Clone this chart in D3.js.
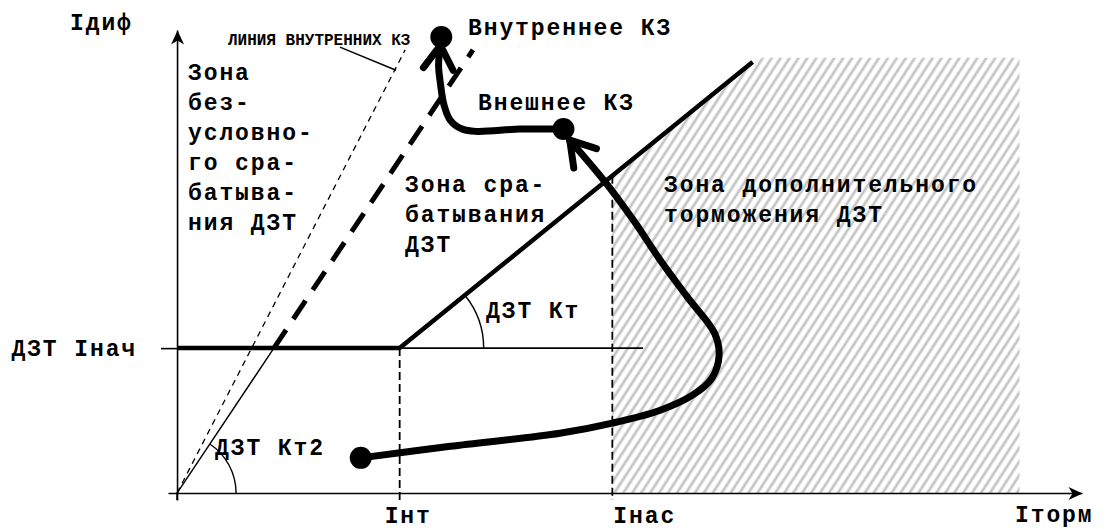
<!DOCTYPE html>
<html>
<head>
<meta charset="utf-8">
<script src="https://cdn.jsdelivr.net/npm/d3@7"></script>
<style>
  body { margin: 0; background: #fff; }
  text { font-family: "Liberation Mono", monospace; font-weight: bold; fill: #000; }
</style>
</head>
<body>
<div id="chart"></div>
<script>
// values, in relative current units (0..100 on each axis)
const xTickLabels = ['Iнт', 'Iнас'];
const xTickValues = [24.6, 48.1];
const yTickLabels = ['ДЗТ Iнач'];
const yTickValues = [31.3];

const braking = [[0, 31.3], [24.6, 31.3], [63.6, 93.1]];
const kt2Solid = [[0, 0], [10.7, 31.3]];
const kt2Dashed = [[10.7, 31.3], [32.7, 95.7]];
const internalLine = [[0, 0], [25.2, 95.7]];
const leader = [[18.0, 96.3], [24.2, 91.3]];
const hatchX = [48.1, 93.1];
const hatchTop = 94;

const pathExternal = [[20.3, 7.6], [30.2, 10.1], [42.3, 12.9], [48.1, 15.1], [53.4, 17.9],
  [57.0, 21.2], [59.1, 24.8], [59.9, 29.8], [59.4, 34.5], [56.4, 42.3], [53.4, 50.3],
  [50.4, 59.0], [47.3, 67.2], [43.4, 76.2]];
const pathInternal = [[42.7, 78.6], [37.9, 78.6], [33.1, 78.1], [31.5, 78.6], [30.2, 80.5],
  [29.5, 83.8], [29.1, 88.5], [28.9, 92.4], [29.1, 96.7]];
const faultDots = [[20.3, 7.6], [42.7, 78.6], [29.2, 98.5]];

const zone1 = ['Зона', 'без-', 'условно-', 'го сра-', 'батыва-', 'ния ДЗТ'];
const zone2 = ['Зона сра-', 'батывания', 'ДЗТ'];
const zone3 = ['Зона дополнительного', 'торможения ДЗТ'];

const width = 1109, height = 529;
const fontSize = 23, spacing = 1.9;

const x = d3.scaleLinear().domain([-1, 100]).range([168, 1082]);
const y = d3.scaleLinear().domain([-1.5, 100]).range([500, 30]);
const line = d3.line().x(d => x(d[0])).y(d => y(d[1]));

const svg = d3.select('#chart').append('svg')
  .attr('width', width)
  .attr('height', height);

const defs = svg.append('defs');
defs.append('marker')
  .attr('id', 'arrow')
  .attr('markerUnits', 'userSpaceOnUse')
  .attr('viewBox', '-15 -8 16 16')
  .attr('refX', 0).attr('refY', 0)
  .attr('markerWidth', 16).attr('markerHeight', 16)
  .attr('orient', 'auto')
  .append('path')
  .attr('d', 'M0,0L-14,-6.5L-10,0L-14,6.5Z')
  .attr('fill', '#000');

const pat = defs.append('pattern')
  .attr('id', 'hatch')
  .attr('patternUnits', 'userSpaceOnUse')
  .attr('width', 7.5).attr('height', 10)
  .attr('patternTransform', 'rotate(33)');
pat.append('line')
  .attr('x1', 3.75).attr('x2', 3.75).attr('y1', 0).attr('y2', 10)
  .attr('stroke', '#c4c4c4').attr('stroke-width', 2.7);

// hatched zone under the braking slope
const slope = (braking[2][1] - braking[1][1]) / (braking[2][0] - braking[1][0]);
const hatchPoly = [
  [hatchX[0], 0],
  [hatchX[0], braking[1][1] + slope * (hatchX[0] - braking[1][0])],
  [braking[1][0] + (hatchTop - braking[1][1]) / slope, hatchTop],
  [hatchX[1], hatchTop],
  [hatchX[1], 0]
];
svg.append('path')
  .attr('d', line(hatchPoly) + 'Z')
  .attr('fill', 'url(#hatch)');

// axes
const xAxis = svg.append('g')
  .attr('transform', `translate(0,${y(0)})`)
  .call(d3.axisBottom(x).tickValues([]).tickSizeOuter(0));
const yAxis = svg.append('g')
  .attr('transform', `translate(${x(0)},0)`)
  .call(d3.axisLeft(y).tickValues(yTickValues).tickFormat((d, i) => yTickLabels[i])
    .tickSize(16).tickSizeOuter(0).tickPadding(24));
[xAxis, yAxis].forEach(g => {
  g.select('.domain').attr('stroke-width', 1.6).attr('marker-end', 'url(#arrow)');
  g.selectAll('.tick line').attr('stroke-width', 1.6);
  g.selectAll('text').attr('font-family', null).attr('font-size', fontSize)
    .attr('letter-spacing', spacing);
});
// y axis continues a little below the origin
svg.append('line')
  .attr('x1', x(0)).attr('x2', x(0)).attr('y1', y(0)).attr('y2', y(-1.5))
  .attr('stroke', '#000').attr('stroke-width', 1.6);

// x tick guides and labels
const guideTop = [braking[1][1], braking[1][1] + slope * (xTickValues[1] - braking[1][0])];
xTickValues.forEach((v, i) => {
  svg.append('line')
    .attr('x1', x(v)).attr('x2', x(v))
    .attr('y1', y(guideTop[i])).attr('y2', y(-1.5))
    .attr('stroke', '#000').attr('stroke-width', 1.8)
    .attr('stroke-dasharray', '8,4');
});
svg.append('text').attr('x', x(xTickValues[0]) - 15).attr('y', 523)
  .attr('font-size', fontSize).attr('letter-spacing', spacing).text(xTickLabels[0]);
svg.append('text').attr('x', x(xTickValues[1]) + 1).attr('y', 523)
  .attr('font-size', fontSize).attr('letter-spacing', spacing).text(xTickLabels[1]);
svg.append('text').attr('x', 1015).attr('y', 522)
  .attr('font-size', fontSize).attr('letter-spacing', spacing).text('Iторм');
svg.append('text').attr('x', 70).attr('y', 30)
  .attr('font-size', fontSize).attr('letter-spacing', spacing).text('Iдиф');

// thin horizontal reference after Iнт
svg.append('line')
  .attr('x1', x(braking[1][0])).attr('x2', 643)
  .attr('y1', y(braking[1][1])).attr('y2', y(braking[1][1]))
  .attr('stroke', '#000').attr('stroke-width', 1.6);

// internal faults line (thin dashed)
svg.append('path').attr('d', line(internalLine))
  .attr('fill', 'none').attr('stroke', '#000').attr('stroke-width', 1.3)
  .attr('stroke-dasharray', '6,5');
svg.append('path').attr('d', line(leader))
  .attr('fill', 'none').attr('stroke', '#000').attr('stroke-width', 1.5);
svg.append('text').attr('x', 228).attr('y', 45)
  .attr('font-size', 16).text('ЛИНИЯ ВНУТРЕННИХ КЗ');

// Kт2 slope
svg.append('path').attr('d', line(kt2Solid))
  .attr('fill', 'none').attr('stroke', '#000').attr('stroke-width', 1.4);
svg.append('path').attr('d', line(kt2Dashed))
  .attr('fill', 'none').attr('stroke', '#000').attr('stroke-width', 5)
  .attr('stroke-dasharray', '22,13');

// braking characteristic
svg.append('path').attr('d', line(braking))
  .attr('fill', 'none').attr('stroke', '#000').attr('stroke-width', 4.5);

// angle arcs
function angleArc(cx, cy, r, a) {
  const p = d3.path();
  p.moveTo(cx + r, cy);
  p.arc(cx, cy, r, 0, -a, true);
  return p.toString();
}
const aKt = Math.atan2(y(braking[1][1]) - y(braking[2][1]), x(braking[2][0]) - x(braking[1][0]));
const aKt2 = Math.atan2(y(kt2Solid[0][1]) - y(kt2Solid[1][1]), x(kt2Solid[1][0]) - x(kt2Solid[0][0]));
svg.append('path').attr('d', angleArc(x(braking[1][0]), y(braking[1][1]), 84, aKt))
  .attr('fill', 'none').attr('stroke', '#000').attr('stroke-width', 1.4);
svg.append('path').attr('d', angleArc(x(0), y(0), 59, aKt2))
  .attr('fill', 'none').attr('stroke', '#000').attr('stroke-width', 1.4);

// fault trajectories
const curve = d3.line().x(d => x(d[0])).y(d => y(d[1])).curve(d3.curveCatmullRom.alpha(0.5));
[pathExternal, pathInternal].forEach(pts => {
  svg.append('path').attr('d', curve(pts))
    .attr('fill', 'none').attr('stroke', '#000').attr('stroke-width', 7)
    .attr('stroke-linecap', 'round');
  const tip = pts[pts.length - 1], prev = pts[pts.length - 2];
  const tx = x(tip[0]), ty = y(tip[1]);
  const back = Math.atan2(y(prev[1]) - ty, x(prev[0]) - tx);
  [-0.56, 0.56].forEach(da => {
    svg.append('line')
      .attr('x1', tx).attr('y1', ty)
      .attr('x2', tx + 28 * Math.cos(back + da)).attr('y2', ty + 28 * Math.sin(back + da))
      .attr('stroke', '#000').attr('stroke-width', 7).attr('stroke-linecap', 'round');
  });
});
svg.selectAll('.dot').data(faultDots).enter().append('circle')
  .attr('class', 'dot')
  .attr('cx', d => x(d[0])).attr('cy', d => y(d[1])).attr('r', 11)
  .attr('fill', '#000');

// zone texts
function block(lines, x0, y0) {
  lines.forEach((t, i) => {
    svg.append('text').attr('x', x0).attr('y', y0 + i * 30)
      .attr('font-size', fontSize).attr('letter-spacing', spacing).text(t);
  });
}
block(zone1, 188, 80);
block(zone2, 405, 192);
block(zone3, 664, 192);
block(['Внутреннее КЗ'], 468, 35);
block(['Внешнее КЗ'], 478, 110);
block(['ДЗТ Кт'], 486, 318);
block(['ДЗТ Кт2'], 215, 455);
</script>
</body>
</html>
